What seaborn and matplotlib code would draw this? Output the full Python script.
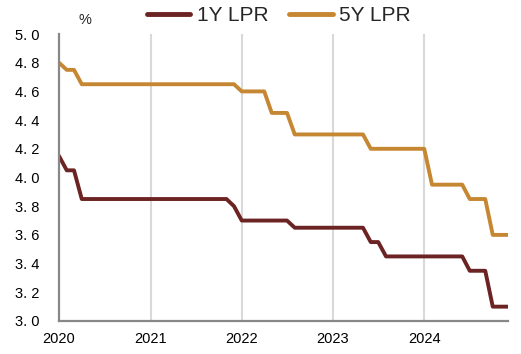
import matplotlib
matplotlib.use("Agg")
import matplotlib.pyplot as plt
import matplotlib.dates as mdates
import seaborn as sns
import pandas as pd

months = pd.date_range("2020-01-01", "2024-12-01", freq="MS")
lpr_1y = [4.15, 4.05, 4.05, 3.85, 3.85, 3.85, 3.85, 3.85, 3.85, 3.85, 3.85, 3.85,
          3.85, 3.85, 3.85, 3.85, 3.85, 3.85, 3.85, 3.85, 3.85, 3.85, 3.85, 3.80,
          3.70, 3.70, 3.70, 3.70, 3.70, 3.70, 3.70, 3.65, 3.65, 3.65, 3.65, 3.65,
          3.65, 3.65, 3.65, 3.65, 3.65, 3.55, 3.55, 3.45, 3.45, 3.45, 3.45, 3.45,
          3.45, 3.45, 3.45, 3.45, 3.45, 3.45, 3.35, 3.35, 3.35, 3.10, 3.10, 3.10]
lpr_5y = [4.80, 4.75, 4.75, 4.65, 4.65, 4.65, 4.65, 4.65, 4.65, 4.65, 4.65, 4.65,
          4.65, 4.65, 4.65, 4.65, 4.65, 4.65, 4.65, 4.65, 4.65, 4.65, 4.65, 4.65,
          4.60, 4.60, 4.60, 4.60, 4.45, 4.45, 4.45, 4.30, 4.30, 4.30, 4.30, 4.30,
          4.30, 4.30, 4.30, 4.30, 4.30, 4.20, 4.20, 4.20, 4.20, 4.20, 4.20, 4.20,
          4.20, 3.95, 3.95, 3.95, 3.95, 3.95, 3.85, 3.85, 3.85, 3.60, 3.60, 3.60]
series_names = ["1Y LPR", "5Y LPR"]
colors = ["#6B2323", "#C68732"]
y_ticks = [3.0, 3.2, 3.4, 3.6, 3.8, 4.0, 4.2, 4.4, 4.6, 4.8, 5.0]
year_ticks = ["2020", "2021", "2022", "2023", "2024"]

df = pd.DataFrame({"date": list(months) * 2,
                   "value": lpr_1y + lpr_5y,
                   "series": [series_names[0]] * len(months) + [series_names[1]] * len(months)})

sns.set_style("white")
plt.rcParams["font.family"] = ["Liberation Sans", "DejaVu Sans"]

fig = plt.figure(figsize=(5.21, 3.54), dpi=100)
ax = fig.add_axes([59/521, 1-321/354, (508-59)/521, (321-34)/354])

sns.lineplot(data=df, x="date", y="value", hue="series", palette=colors,
             linewidth=2.8, ax=ax, legend=False)

ax.set_xlim(months[0], months[-1])
ax.set_ylim(3.0, 5.0)
ax.set_yticks(y_ticks)
ax.set_yticklabels([f"{v:.1f}".replace(".", ". ") for v in y_ticks], fontsize=10.5)
xt = [pd.Timestamp(f"{y}-01-01") for y in year_ticks]
ax.set_xticks(xt)
ax.set_xticklabels(year_ticks, fontsize=10.5)
ax.set_xlabel("")
ax.set_ylabel("")
for t in xt[1:]:
    ax.axvline(t, color="#d9d9d9", linewidth=1.5, zorder=0)

for s in ["top", "right"]:
    ax.spines[s].set_visible(False)
for s in ["left", "bottom"]:
    ax.spines[s].set_color("#888888")
    ax.spines[s].set_linewidth(1.6)
ax.tick_params(axis="both", direction="in", length=4, width=1.6, color="#888888",
               labelcolor="black")
ax.tick_params(axis="y", pad=14)
ax.tick_params(axis="x", pad=8)

from matplotlib.lines import Line2D
handles = [Line2D([0], [0], color=c, linewidth=3.5, solid_capstyle="round") for c in colors]
fig.legend(handles, series_names, loc="center", bbox_to_anchor=(0.535, 0.955), ncol=2,
           frameon=False, fontsize=15, handlelength=2.1, columnspacing=1.0,
           handletextpad=0.3)
fig.text(85/521, 1-20/354, "%", fontsize=10.5, ha="center", va="center")

fig.savefig("out.png", dpi=100)
